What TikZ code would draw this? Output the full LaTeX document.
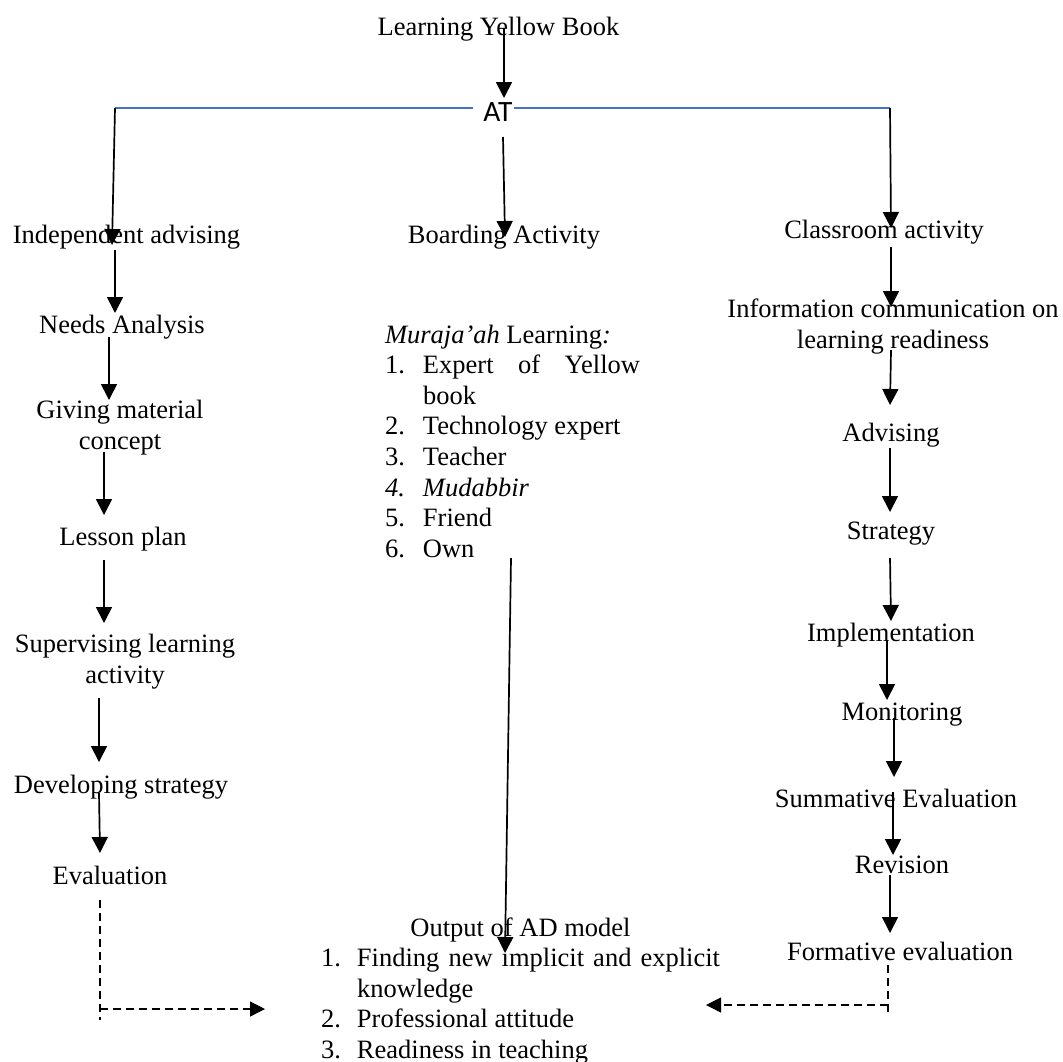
\documentclass[tikz,border=0pt]{standalone}
\usepackage{fontspec}
\setmainfont{Liberation Serif}
\newfontfamily\atfont{Carlito}
\usetikzlibrary{arrows.meta,calc}
\definecolor{lineblue}{HTML}{4472C4}
\newcommand{\mfont}{\fontsize{13.25pt}{15.4pt}\selectfont}
\newcommand{\twoline}[2]{\vtop{\baselineskip=15.5pt\halign{\hfil##\hfil\cr #1\cr #2\cr}}}
\newcommand{\litem}[3]{\par\noindent\hangindent=#1\hangafter=1\hbox to #1{#2\hfil}#3}
\begin{document}
\begin{tikzpicture}[x=0.5pt,y=-0.5pt,
  every node/.style={inner sep=0pt,outer sep=0pt,font=\mfont},
  lbl/.style={anchor=base},
  arr/.style={-{Triangle[length=8pt,width=8pt]},line width=0.85pt},
  darr/.style={-{Triangle[length=7.5pt,width=7.5pt]},line width=0.6pt,dash pattern=on 4pt off 2.5pt},
  dln/.style={line width=0.6pt,dash pattern=on 4pt off 2.5pt},
  blueln/.style={draw=lineblue,line width=0.8pt}]
\useasboundingbox (0,0) rectangle (1063,1061);

% top
\node[lbl] (title) at (498.5,35) {Learning Yellow Book};
\node[lbl,font={\atfont\fontsize{14.75pt}{17pt}\selectfont}] (at) at (498,121) {AT};

% left column
\node[lbl] (ind) at (126.5,243) {Independent advising};
\node[lbl] (needs) at (122,333) {Needs Analysis};
\node[lbl] (give) at (120,418) {\twoline{Giving material}{concept}};
\node[lbl] (lesson) at (123,545) {Lesson plan};
\node[lbl] (sup) at (125,652) {\twoline{Supervising learning}{activity}};
\node[lbl] (dev) at (121,793) {Developing strategy};
\node[lbl] (eval) at (110,884) {Evaluation};

% middle
\node[lbl] (board) at (504,243) {Boarding Activity};
\node[anchor=base west] (mur) at (385,343) {\vtop{\hsize=127.5pt\parindent=0pt\tolerance=10000\hbadness=10000\hyphenpenalty=10000\baselineskip=15.3pt
\noindent\textit{Muraja’ah} Learning\textit{:}
\litem{19pt}{1.}{Expert of Yellow book}
\litem{19pt}{2.}{Technology expert}
\litem{19pt}{3.}{Teacher}
\litem{19pt}{\textit{4.}}{\textit{Mudabbir}}
\litem{19pt}{5.}{Friend}
\litem{19pt}{6.}{Own}\par}};
\node[anchor=base west] (out) at (321,936) {\vtop{\hsize=199.5pt\parindent=0pt\tolerance=10000\hbadness=10000\hyphenpenalty=10000\baselineskip=15.25pt
{\centering Output of AD model\par}
\litem{18pt}{1.}{Finding new implicit and explicit knowledge}
\litem{18pt}{2.}{Professional attitude}
\litem{18pt}{3.}{Readiness in teaching}\par}};

% right column
\node[lbl] (class) at (884,238) {Classroom activity};
\node[lbl] (info) at (893,317) {\twoline{Information communication on}{learning readiness}};
\node[lbl] (adv) at (891,441) {Advising};
\node[lbl] (strat) at (891,539) {Strategy};
\node[lbl] (impl) at (891,641) {Implementation};
\node[lbl] (mon) at (902,720) {Monitoring};
\node[lbl] (sum) at (896,807) {Summative Evaluation};
\node[lbl] (rev) at (902,873) {Revision};
\node[lbl] (form) at (900,960) {Formative evaluation};

% connectors
\coordinate (cL) at (115,108);
\coordinate (cR) at (890,108);
\draw[blueln] ($(at.base)+(-25,-13)$) -- (cL);
\draw[blueln] ($(at.base)+(16,-13)$) -- (cR);
\draw[arr] ($(title.base)+(5.5,-7)$) -- ($(at.base)+(6,-23)$);
\draw[arr] (cL) -- ($(ind.base)+(-14.5,2)$);
\draw[arr] (cR) -- ($(class.base)+(7,-10)$);
\draw[arr] ($(at.base)+(5,16)$) -- ($(board.base)+(1,-6)$);

\draw[arr] ($(ind.base)+(-11.5,7)$) -- ($(needs.base)+(-7,-20)$);
\draw[arr] ($(needs.base)+(-13,4)$) -- ($(give.base)+(-11,-18)$);
\draw[arr] ($(give.base)+(-16,34)$) -- ($(lesson.base)+(-19,-30)$);
\draw[arr] ($(lesson.base)+(-19,15)$) -- ($(sup.base)+(-21,-29)$);
\draw[arr] ($(sup.base)+(-26,46)$) -- ($(dev.base)+(-22,-31)$);
\draw[arr] ($(dev.base)+(-22,0)$) -- ($(eval.base)+(-10,-31)$);

\draw[arr] ($(class.base)+(7,9)$) -- ($(info.base)+(-2,-10)$);
\draw[arr] ($(info.base)+(-2,33)$) -- ($(adv.base)+(-1,-36)$);
\draw[arr] ($(adv.base)+(-1,7)$) -- ($(strat.base)+(-1,-27)$);
\draw[arr] ($(strat.base)+(-1,19)$) -- ($(impl.base)+(0,-20)$);
\draw[arr] ($(impl.base)+(-4,-1)$) -- ($(mon.base)+(-15,-20)$);
\draw[arr] ($(mon.base)+(-8,-2)$) -- ($(sum.base)+(-2,-30)$);
\draw[arr] ($(sum.base)+(-3,-15)$) -- ($(rev.base)+(-9,-18)$);
\draw[arr] ($(rev.base)+(-12,2)$) -- ($(form.base)+(-10,-27)$);

\draw[arr] ($(mur.base west)+(126,215)$) -- ($(out.base west)+(184,17)$);

\coordinate (eL) at ($(eval.base)+(-10,125)$);
\draw[dln] ($(eval.base)+(-10,16)$) -- ($(eval.base)+(-10,136)$);
\draw[darr] (eL) -- ($(out.base west)+(-56,73)$);
\coordinate (eR) at ($(form.base)+(-12,45)$);
\draw[dln] ($(form.base)+(-12,5)$) -- ($(form.base)+(-12,53)$);
\draw[darr] (eR) -- ($(out.base west)+(385,69)$);
\end{tikzpicture}
\end{document}
